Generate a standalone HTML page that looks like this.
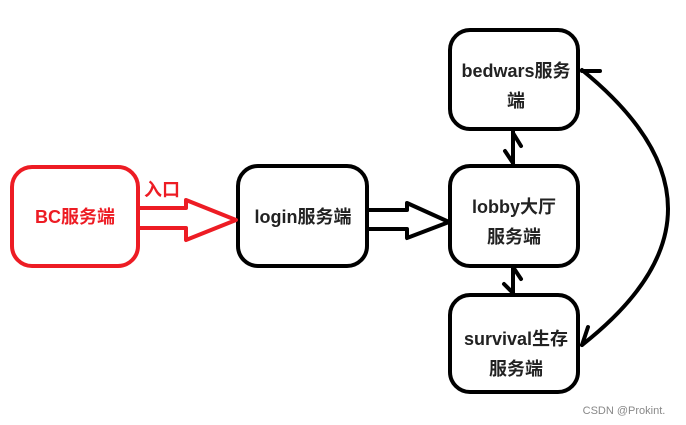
<!DOCTYPE html>
<html><head><meta charset="utf-8"><style>
body{margin:0;background:#fff;}
svg{display:block}
text{font-family:"Liberation Sans","Noto Sans CJK SC",sans-serif;font-weight:bold;font-size:18px;text-anchor:middle;fill:#222}
</style></head><body>
<svg width="686" height="425" viewBox="0 0 686 425">
<g fill="none" stroke-width="4" stroke-linejoin="round" stroke-linecap="round">
<rect x="12" y="167" width="126" height="99" rx="20" stroke="#ed1c24"/>
<rect x="238" y="166" width="129" height="100" rx="20" stroke="#000"/>
<rect x="450" y="166" width="128" height="100" rx="20" stroke="#000"/>
<rect x="450" y="30" width="128" height="99" rx="20" stroke="#000"/>
<rect x="450" y="295" width="128" height="97" rx="20" stroke="#000"/>
<path d="M140 208 H186 V200 L236 220 L186 240 V228 H140" stroke="#ed1c24"/>
<path d="M368 210 H407 V203 L449 222 L407 238 V229 H368" stroke="#000"/>
<path d="M513 131 V165 M513 133 L521 146 M513 163 L505 151" stroke="#000"/>
<path d="M513 267 V295 M513 267 L521 279 M513 293 L504 284" stroke="#000"/>
<path d="M582 70 Q754 210 582 345" stroke="#000"/>
<path d="M582 71 H600 M582 345 L588 327" stroke="#000"/>
</g>
<text x="75" y="223" style="fill:#ed1c24">BC服务端</text>
<text x="162" y="196" style="fill:#ed1c24">入口</text>
<text x="303" y="223">login服务端</text>
<text x="516" y="77">bedwars服务</text>
<text x="516" y="107">端</text>
<text x="514" y="213">lobby大厅</text>
<text x="514" y="243">服务端</text>
<text x="516" y="345">survival生存</text>
<text x="516" y="375">服务端</text>
<text x="624" y="414" style="font-size:11px;font-weight:normal;fill:#888">CSDN @Prokint.</text>
</svg>
</body></html>
